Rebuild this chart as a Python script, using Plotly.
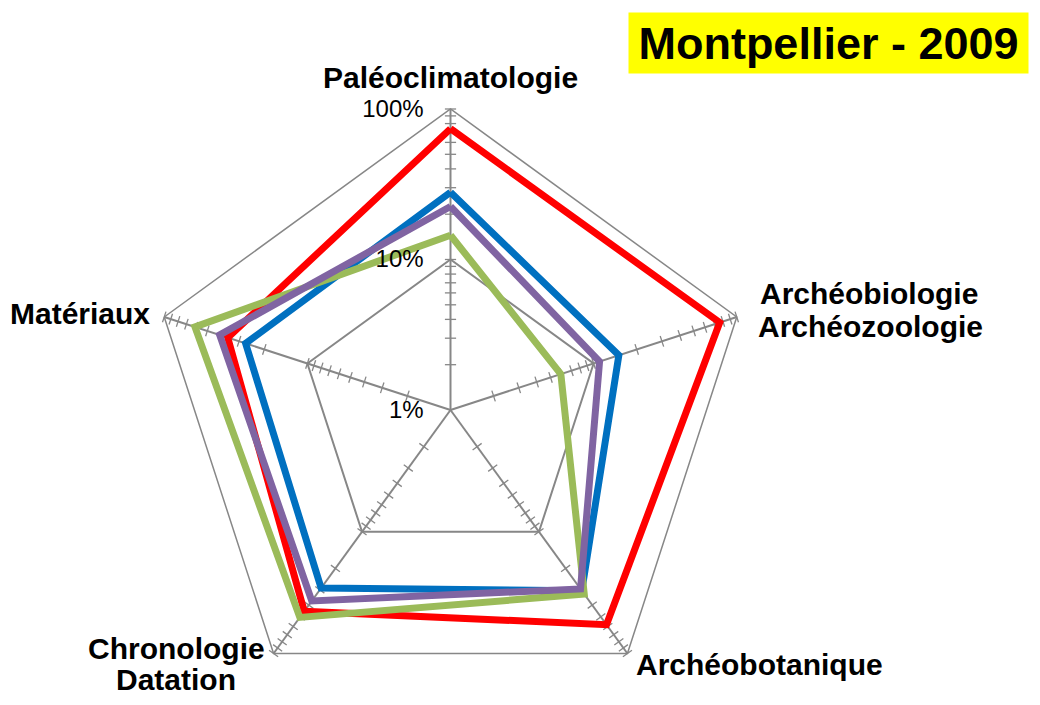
import plotly.graph_objects as go

categories = ["Paléoclimatologie", "Archéobiologie<br>Archéozoologie", "Archéobotanique",
              "Chronologie<br>Datation", "Matériaux"]
red_vals = [74, 76, 58, 45, 36]
blue_vals = [28, 15, 30.5, 29, 27]
green_vals = [14.5, 5.9, 32.5, 50.5, 61]
purple_vals = [22.5, 11, 29.5, 37, 41]
tick_vals = [1, 10, 100]
tick_text = ["1%", "10%", "100%"]
minor_mult = [2, 3, 4, 5, 6, 7, 8, 9]
decades = [1, 10]

GRID = "#878787"
FONT = "Liberation Sans"
W, H = 1040, 705
OFF = 8  # page body margin of the written html


def px(x):
    return (x - OFF) / W


def py(y):
    return 1 - (y - OFF) / H


fig = go.Figure()

# minor ticks on every spoke
minor_r = [m * d for d in decades for m in minor_mult] + tick_vals
for i, cat in enumerate(categories):
    fig.add_trace(go.Scatterpolar(
        r=minor_r, theta=[cat] * len(minor_r), mode="markers",
        marker=dict(symbol="line-ew", size=8, angle=72 * i,
                    line=dict(color=GRID, width=1.3)),
        hoverinfo="skip", showlegend=False))

series = [("Rouge", red_vals, "#FF0000"), ("Bleu", blue_vals, "#0070C0"),
          ("Vert", green_vals, "#9BBB59"), ("Violet", purple_vals, "#8064A2")]
for name, vals, col in series:
    fig.add_trace(go.Scatterpolar(
        r=vals + vals[:1], theta=categories + categories[:1], mode="lines",
        name=name, line=dict(color=col, width=7), showlegend=False))

# category labels (one annotation per text line)
label_pos = [[(450.5, 77)], [(869, 294), (870, 326)], [(759, 664)],
             [(176, 648), (176, 679)], [(80, 313.5)]]
annotations = []
for cat, posl in zip(categories, label_pos):
    for line, (x, y) in zip(cat.split("<br>"), posl):
        annotations.append(dict(
            text=line, xref="paper", yref="paper", x=px(x), y=py(y),
            xanchor="center", yanchor="middle", showarrow=False,
            font=dict(family=FONT, size=30, color="black", weight="bold")))

annotations.append(dict(
    text="<b>Montpellier - 2009</b>", xref="paper", yref="paper",
    x=px(1029), y=py(12), xanchor="right", yanchor="top",
    showarrow=False, bgcolor="#FFFF00", borderpad=1,
    width=397, height=58, align="center", valign="middle",
    font=dict(family=FONT, size=45, color="black")))

cx, cy, R = 450.5, 410, 301
fig.update_layout(
    width=W, height=H,
    margin=dict(l=0, r=0, t=0, b=0),
    paper_bgcolor="white", plot_bgcolor="white",
    font=dict(family=FONT, color="black"),
    showlegend=False,
    polar=dict(
        domain=dict(x=[px(cx - R), px(cx + R)], y=[max(0, py(cy + R)), py(cy - R)]),
        bgcolor="white",
        gridshape="linear",
        angularaxis=dict(
            rotation=90, direction="clockwise", type="category",
            categoryorder="array", categoryarray=categories,
            showline=True, linecolor=GRID, linewidth=1.5,
            showgrid=True, gridcolor=GRID, gridwidth=1.5,
            ticks="", showticklabels=False,
        ),
        radialaxis=dict(
            type="log", range=[0, 2], angle=90, side="counterclockwise",
            tickvals=tick_vals, ticktext=tick_text, tickangle=90,
            tickfont=dict(family=FONT, size=24, color="black"),
            showline=False, showgrid=True, gridcolor=GRID, gridwidth=1.5,
            ticks="outside", ticklen=18, tickcolor="rgba(0,0,0,0)",
        ),
    ),
    annotations=annotations,
)

fig.write_html("out.html")
